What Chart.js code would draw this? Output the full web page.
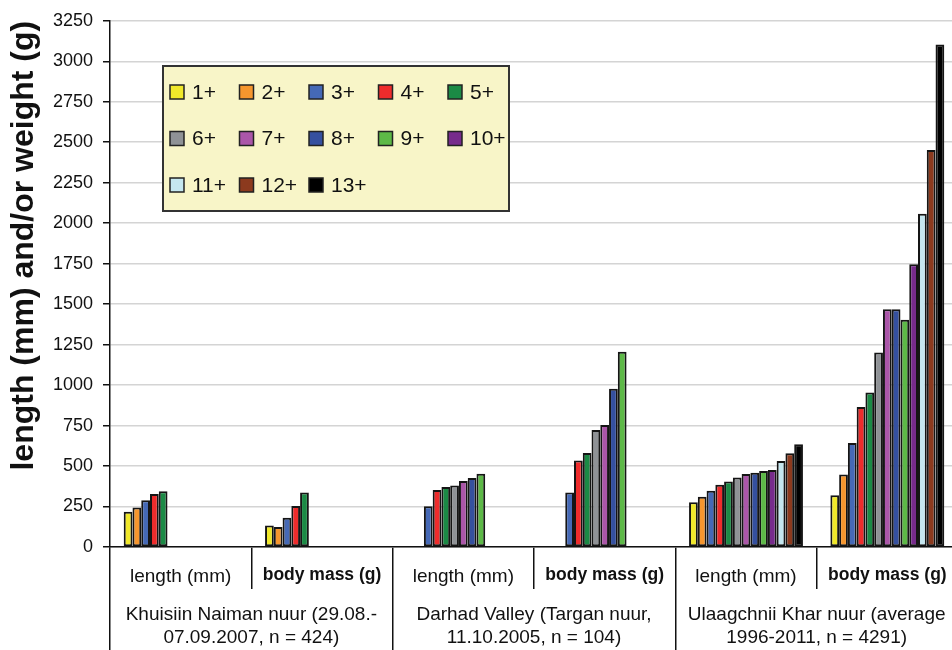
<!DOCTYPE html>
<html>
<head>
<meta charset="utf-8">
<script src="https://cdn.jsdelivr.net/npm/chart.js@4.4.1/dist/chart.umd.min.js"></script>
<style>
  html, body { margin: 0; padding: 0; background: #fff; }
  #wrap { width: 952px; height: 650px; overflow: hidden; position: relative; }
  canvas { display: block; }
</style>
</head>
<body>
<div id="wrap"><canvas id="c" width="958" height="665"></canvas></div>
<script>
// categories on the lower axis row and the site labels under them
const measures = ['length (mm)', 'body mass (g)', 'length (mm)', 'body mass (g)', 'length (mm)', 'body mass (g)'];
const sites = [
  ['Khuisiin Naiman nuur (29.08.-', '07.09.2007, n = 424)'],
  ['Darhad Valley (Targan nuur,', '11.10.2005, n = 104)'],
  ['Ulaagchnii Khar nuur (average', '1996-2011, n = 4291)']
];
const ageClasses = ['1+', '2+', '3+', '4+', '5+', '6+', '7+', '8+', '9+', '10+', '11+', '12+', '13+'];
const ageColors = ['#f0e82a', '#f6962e', '#4569b6', '#ee2c2c', '#1b8a45', '#8f9296', '#ab56a9',
                   '#35509f', '#5db947', '#772b8c', '#c5e7f0', '#8c3a1e', '#000000'];

// values per category, one entry per age class (null = no data)
const khuisiinLength = [217, 244, 289, 328, 344, null, null, null, null, null, null, null, null];
const khuisiinMass   = [133, 123, 180, 254, 336, null, null, null, null, null, null, null, null];
const darhadLength   = [null, null, 251, 352, 370, 380, 407, 426, 452, null, null, null, null];
const darhadMass     = [null, null, 336, 535, 580, 722, 754, 978, 1206, null, null, null, null];
const ulaagLength    = [276, 311, 348, 385, 404, 430, 451, 459, 470, 476, 531, 579, 634];
const ulaagMass      = [319, 448, 642, 865, 954, 1202, 1469, 1469, 1404, 1746, 2058, 2452, 3104];

const rows = [khuisiinLength, khuisiinMass, darhadLength, darhadMass, ulaagLength, ulaagMass];

const sans = '"Liberation Sans", Arial, sans-serif';

const datasets = ageClasses.map((a, i) => ({
  label: a,
  data: rows.map(r => r[i]),
  backgroundColor: ageColors[i],
  borderColor: '#151515',
  borderWidth: 2,
  borderSkipped: false,
  categoryPercentage: 0.806,
  barPercentage: 1
}));

// legend box drawn inside the plot
const boxLegend = {
  id: 'boxLegend',
  afterDraw(chart) {
    const ctx = chart.ctx;
    ctx.save();
    ctx.fillStyle = '#f8f5c8';
    ctx.fillRect(163, 66, 346, 145);
    ctx.strokeStyle = '#333';
    ctx.lineWidth = 2;
    ctx.strokeRect(163, 66, 346, 145);
    ctx.font = '21px ' + sans;
    ctx.textBaseline = 'middle';
    chart.data.datasets.forEach((ds, i) => {
      const col = i % 5, row = Math.floor(i / 5);
      const x = 170 + col * 69.5, y = 92 + row * 46.5;
      ctx.fillStyle = ds.backgroundColor;
      ctx.fillRect(x, y - 7, 14, 14);
      ctx.strokeStyle = '#222';
      ctx.lineWidth = 1.5;
      ctx.strokeRect(x, y - 7, 14, 14);
      ctx.fillStyle = '#111';
      ctx.fillText(ds.label, x + 22, y + 1);
    });
    ctx.restore();
  }
};

new Chart(document.getElementById('c'), {
  type: 'bar',
  data: { labels: measures, datasets },
  options: {
    responsive: false,
    animation: false,
    layout: { padding: { top: 18, right: 0, bottom: 0, left: 0 } },
    plugins: { legend: { display: false }, tooltip: { enabled: false } },
    scales: {
      x: {
        position: 'bottom',
        offset: true,
        grid: { offset: true, drawOnChartArea: false, tickLength: 42, color: '#111', lineWidth: 1.5 },
        border: { display: true, color: '#111', width: 1.5 },
        ticks: {
          padding: -24,
          color: '#111',
          maxRotation: 0,
          autoSkip: false,
          font: c => (c.index % 2
            ? { family: sans, size: 17.5, weight: 'bold' }
            : { family: sans, size: 19 })
        },
        afterFit: s => { s.height = 42; }
      },
      x2: {
        type: 'category',
        position: 'bottom',
        labels: sites,
        offset: true,
        grid: { offset: true, drawOnChartArea: false, tickLength: 80, color: '#111', lineWidth: 1.5 },
        border: { display: false },
        ticks: {
          padding: -66,
          color: '#111',
          maxRotation: 0,
          autoSkip: false,
          font: { family: sans, size: 19, lineHeight: 1.22 }
        },
        afterFit: s => { s.height = 76; }
      },
      y: {
        min: 0,
        max: 3250,
        ticks: {
          stepSize: 250,
          padding: 10,
          color: '#111',
          callback: v => String(v),
          font: { family: sans, size: 18 }
        },
        grid: { color: '#d4d4d4', lineWidth: 1.5, tickLength: 7, tickColor: '#111' },
        border: { display: true, color: '#111', width: 1.5 },
        title: {
          display: true,
          text: 'length (mm) and/or weight (g)',
          align: 'end',
          color: '#111',
          padding: { top: 5, bottom: 0 },
          font: { family: sans, size: 32, weight: 'bold', lineHeight: 1.2 }
        },
        afterFit: s => { s.width = 110; }
      }
    }
  },
  plugins: [boxLegend]
});
</script>
</body>
</html>
